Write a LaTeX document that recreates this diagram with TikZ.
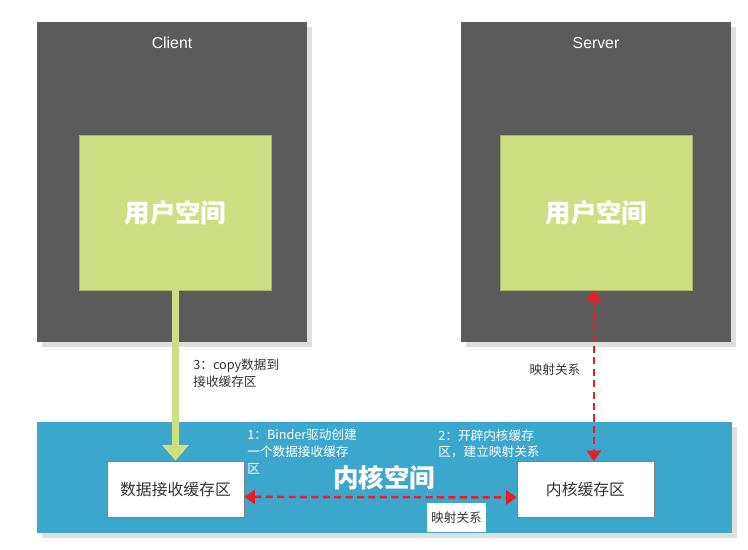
\documentclass[tikz,border=0pt]{standalone}
\usepackage{fontspec}
\setmainfont{Liberation Sans}
\newfontfamily\cjk{Noto Sans CJK SC}
\usepackage{tikz}
\usetikzlibrary{positioning, arrows.meta, shadows}

\definecolor{procgray}{HTML}{5B5B5B}
\definecolor{userspace}{HTML}{CEDE82}
\definecolor{kernelblue}{HTML}{3BA7CC}
\definecolor{mapred}{HTML}{EC1C24}
\definecolor{labeltext}{HTML}{333333}

\begin{document}
\begin{tikzpicture}[
        x=0.02cm, y=-0.02cm,
        every node/.style={inner sep=0pt},
        process/.style={rectangle, fill=procgray, minimum width=5.4cm, minimum height=6.4cm,
            drop shadow={opacity=0.25, shadow xshift=3pt, shadow yshift=-3pt}},
        user/.style={rectangle, fill=userspace, draw=userspace!80!black, thin, minimum width=3.84cm, minimum height=3.1cm,
            font=\cjk\bfseries\fontsize{14.5}{17}\selectfont, text=white},
        kernel/.style={rectangle, fill=kernelblue, minimum width=13.9cm, minimum height=2.22cm,
            drop shadow={opacity=0.25, shadow xshift=3pt, shadow yshift=-3pt}},
        buffer/.style={rectangle, fill=white, draw=gray, thin, minimum width=2.74cm, minimum height=1.12cm,
            font=\cjk\fontsize{9}{11}\selectfont, text=labeltext},
        note/.style={align=left, font=\cjk\fontsize{7.2}{9.4}\selectfont, text=labeltext},
        copyline/.style={line width=4pt, draw=userspace, -{Triangle[width=15pt, length=9pt]}},
        mapline/.style={line width=1.4pt, draw=mapred, dash pattern=on 4pt off 2.5pt,
            {Triangle[width=8pt, length=6pt]}-{Triangle[width=8pt, length=6pt]}}
    ]
        \useasboundingbox (0,0) rectangle (748,549);
        % Processes
        \node[process] (client) at (172,182) {};
        \node[process] (server) at (596,182) {};
        \node[font=\fontsize{9}{11}\selectfont, text=white] (clientname) at (172,43) {Client};
        \node[font=\fontsize{9}{11}\selectfont, text=white] (servername) at (596,43) {Server};
        % User space
        \node[user] (cuser) at (175.5,212.5) {用户空间};
        \node[user] (suser) at (596.5,212.5) {用户空间};
        % Kernel space
        \node[kernel] (kspace) at (384.5,477.5) {};
        \node[font=\cjk\bfseries\fontsize{14.5}{17}\selectfont, text=white] (kname) at (384,478) {内核空间};
        \node[buffer] (rxbuf) at (175.5,489) {数据接收缓存区};
        \node[buffer] (kbuf) at (585.5,489.5) {内核缓存区};
        % Edges
        \draw[copyline] (cuser.south) -- (rxbuf.north);
        \draw[mapline] ([yshift=-4.5pt]rxbuf.east) -- ([yshift=-4.5pt]kbuf.west);
        \draw[mapline] ([xshift=-1.5pt]suser.south) -- ([xshift=-1.5pt]suser.south |- kbuf.north);
        % Labels
        \node[note, anchor=north west] (copynote) at (193,359) {3：copy数据到\\接收缓存区};
        \node[note] (mapnote) at (555,370) {映射关系};
        \node[note, text=white, anchor=north west] (step1) at (247,429) {1：Binder驱动创建\\一个数据接收缓存\\区};
        \node[note, text=white, anchor=north west] (step2) at (438,429) {2：开辟内核缓存\\区，建立映射关系};
        \node[note, fill=white, minimum width=1.18cm, minimum height=0.58cm] (mapbox) at (456.5,517.5) {映射关系};
    \end{tikzpicture}
\end{document}
